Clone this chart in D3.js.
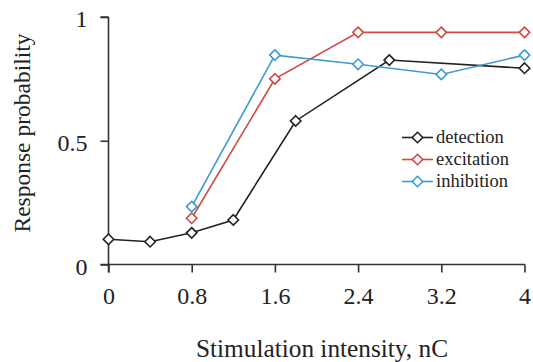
<!DOCTYPE html>
<html>
<head>
<meta charset="utf-8">
<script src="https://cdn.jsdelivr.net/npm/d3@7"></script>
<style>
  html, body { margin: 0; padding: 0; background: #fff; }
  svg { display: block; }
</style>
</head>
<body>
<svg id="chart" width="533" height="362"></svg>
<script>
// Stimulation intensity (nC) and response probability for each measure
const detectionX = [0, 0.4, 0.8, 1.2, 1.8, 2.7, 4.0];
const detectionY = [0.102, 0.092, 0.128, 0.18, 0.58, 0.826, 0.793];
const excitationX = [0.8, 1.6, 2.4, 3.2, 4.0];
const excitationY = [0.187, 0.75, 0.938, 0.938, 0.938];
const inhibitionX = [0.8, 1.6, 2.4, 3.2, 4.0];
const inhibitionY = [0.234, 0.846, 0.809, 0.768, 0.846];

const seriesNames = ["detection", "excitation", "inhibition"];
const seriesColors = ["#222222", "#cf4a45", "#3d9dcc"];
const xTicks = [0, 0.8, 1.6, 2.4, 3.2, 4];
const xTickLabels = ["0", "0.8", "1.6", "2.4", "3.2", "4"];
const yTicks = [0, 0.5, 1];
const yTickLabels = ["0", "0.5", "1"];

const FONT = '"Liberation Serif", "Times New Roman", serif';
const INK = "#222";

const series = [
  { name: seriesNames[0], color: seriesColors[0], pts: detectionX.map((x, i) => [x, detectionY[i]]) },
  { name: seriesNames[1], color: seriesColors[1], pts: excitationX.map((x, i) => [x, excitationY[i]]) },
  { name: seriesNames[2], color: seriesColors[2], pts: inhibitionX.map((x, i) => [x, inhibitionY[i]]) }
];

const svg = d3.select("#chart");
const x = d3.scaleLinear().domain([0, 4]).range([108.5, 524.5]);
const y = d3.scaleLinear().domain([0, 1]).range([264.5, 17]);

// Axes
const xAxis = d3.axisBottom(x).tickValues(xTicks).tickFormat((d, i) => xTickLabels[i])
  .tickSize(8).tickSizeOuter(0).tickPadding(12);
const yAxis = d3.axisLeft(y).tickValues(yTicks).tickFormat((d, i) => yTickLabels[i])
  .tickSize(8).tickSizeOuter(0).tickPadding(13);

const gx = svg.append("g").attr("transform", `translate(0,${y(0)})`).call(xAxis);
const gy = svg.append("g").attr("transform", `translate(${x(0)},0)`).call(yAxis);

[gx, gy].forEach(g => {
  g.attr("font-family", null).attr("font-size", null);
  g.select(".domain").attr("stroke", "#333").attr("stroke-width", 1.6);
  g.selectAll(".tick line").attr("stroke", "#333").attr("stroke-width", 1.6);
  g.selectAll(".tick text").style("font-family", FONT).style("font-size", "24px").attr("fill", INK);
});
// Axis lines: the y axis runs a little below zero, the x axis meets the zero tick
gy.select(".domain").attr("d", `M0,${y(1)}H-8M0,${y(1)}V${y(0) + 8}`);
gx.select(".domain").attr("d", `M${x(0) - 8},0H${x(4) + 0.5}`);
gy.selectAll(".tick text").attr("dy", "0.4em");
gx.selectAll(".tick text").attr("dy", "0.8em");

// Axis titles
svg.append("text")
  .attr("x", 322).attr("y", 356.5)
  .attr("text-anchor", "middle")
  .style("font-family", FONT).style("font-size", "25.3px").attr("fill", INK)
  .text("Stimulation intensity, nC");

svg.append("text")
  .attr("transform", `translate(30,133) rotate(-90)`)
  .attr("text-anchor", "middle")
  .style("font-family", FONT).style("font-size", "23.5px").attr("fill", INK)
  .text("Response probability");

// Lines and diamond markers
const line = d3.line().x(d => x(d[0])).y(d => y(d[1]));
const diamond = d3.symbol().type(d3.symbolDiamond2).size(70);

series.forEach(s => {
  const g = svg.append("g");
  g.append("path").datum(s.pts).attr("d", line)
    .attr("fill", "none").attr("stroke", s.color).attr("stroke-width", 1.6);
  g.selectAll("path.m").data(s.pts).join("path").attr("class", "m")
    .attr("transform", d => `translate(${x(d[0])},${y(d[1])})`)
    .attr("d", diamond)
    .attr("fill", "#fff").attr("stroke", s.color).attr("stroke-width", 1.6);
});

// Legend
const legend = svg.append("g");
series.forEach((s, i) => {
  const ly = 137.5 + i * 22;
  legend.append("line").attr("x1", 402).attr("x2", 433).attr("y1", ly).attr("y2", ly)
    .attr("stroke", s.color).attr("stroke-width", 1.6);
  legend.append("path").attr("transform", `translate(417.5,${ly})`).attr("d", diamond)
    .attr("fill", "#fff").attr("stroke", s.color).attr("stroke-width", 1.6);
  legend.append("text").attr("x", 436).attr("y", ly).attr("dy", "0.32em")
    .style("font-family", FONT).style("font-size", "18.5px").attr("fill", INK)
    .text(s.name);
});
</script>
</body>
</html>
